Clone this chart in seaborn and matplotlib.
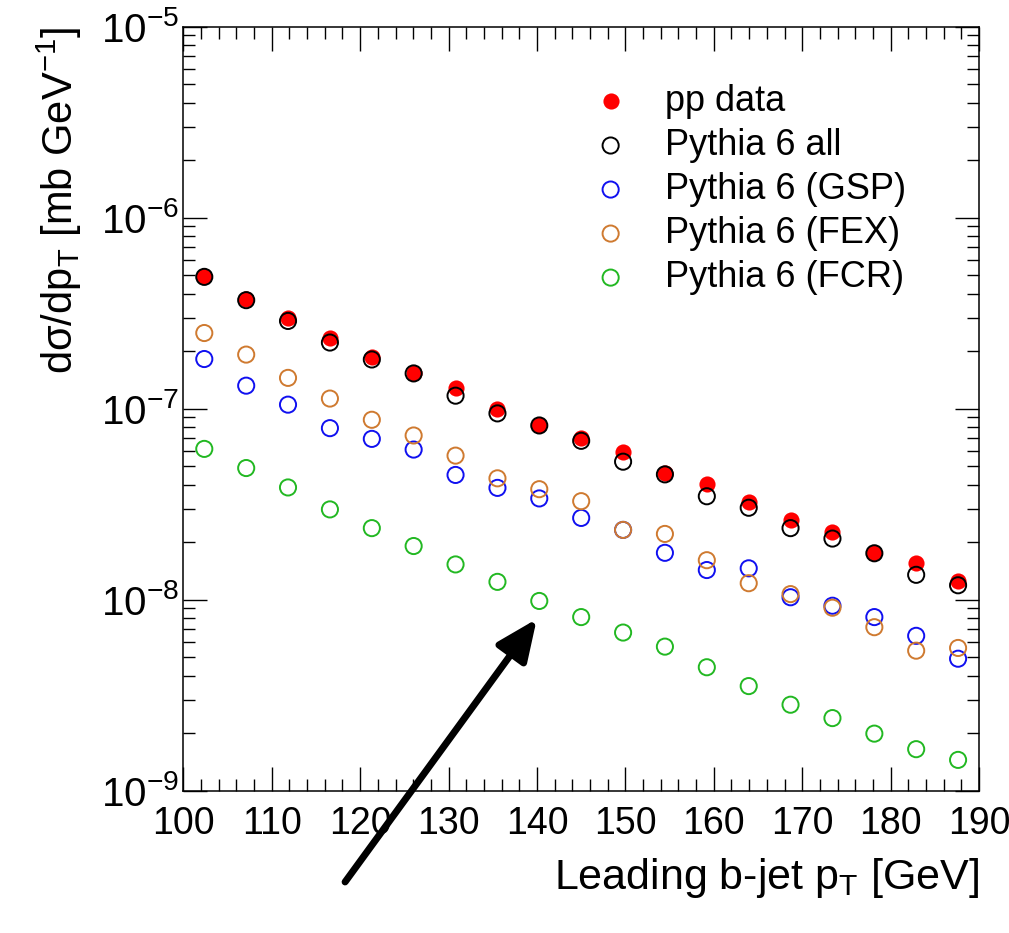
import numpy as np
import pandas as pd
import matplotlib
matplotlib.use('Agg')
import matplotlib.pyplot as plt
from matplotlib.ticker import LogLocator, MultipleLocator, NullFormatter
from matplotlib.patches import FancyArrowPatch
import seaborn as sns

# bin centres of the leading b-jet pT histogram [GeV]
pt_centres = [102.37, 107.11, 111.84, 116.58, 121.32, 126.05, 130.79, 135.53, 140.26, 145.00,
              149.74, 154.47, 159.21, 163.95, 168.68, 173.42, 178.16, 182.89, 187.63]

# d sigma / d pT [mb/GeV]
pp_data = [4.95e-7, 3.75e-7, 2.97e-7, 2.34e-7, 1.86e-7, 1.53e-7, 1.29e-7, 9.96e-8, 8.17e-8, 7.06e-8,
           5.96e-8, 4.62e-8, 4.04e-8, 3.25e-8, 2.60e-8, 2.26e-8, 1.75e-8, 1.55e-8, 1.26e-8]
pythia_all = [4.90e-7, 3.70e-7, 2.88e-7, 2.22e-7, 1.81e-7, 1.53e-7, 1.17e-7, 9.45e-8, 8.17e-8, 6.79e-8,
              5.28e-8, 4.53e-8, 3.48e-8, 3.03e-8, 2.37e-8, 2.09e-8, 1.75e-8, 1.35e-8, 1.19e-8]
pythia_gsp = [1.82e-7, 1.32e-7, 1.05e-7, 7.91e-8, 6.95e-8, 6.11e-8, 4.50e-8, 3.85e-8, 3.39e-8, 2.68e-8,
              2.32e-8, 1.76e-8, 1.43e-8, 1.46e-8, 1.03e-8, 9.30e-9, 8.11e-9, 6.47e-9, 4.91e-9]
pythia_fex = [2.49e-7, 1.92e-7, 1.45e-7, 1.13e-7, 8.75e-8, 7.24e-8, 5.68e-8, 4.32e-8, 3.79e-8, 3.28e-8,
              2.32e-8, 2.21e-8, 1.61e-8, 1.22e-8, 1.07e-8, 9.08e-9, 7.18e-9, 5.41e-9, 5.59e-9]
pythia_fcr = [6.16e-8, 4.89e-8, 3.87e-8, 2.97e-8, 2.37e-8, 1.91e-8, 1.53e-8, 1.24e-8, 9.85e-9, 8.11e-9,
              6.73e-9, 5.68e-9, 4.43e-9, 3.53e-9, 2.82e-9, 2.40e-9, 1.99e-9, 1.65e-9, 1.45e-9]

labels = ['pp data', 'Pythia 6 all', 'Pythia 6 (GSP)', 'Pythia 6 (FEX)', 'Pythia 6 (FCR)']

sns.set_style('ticks')
plt.rcParams['font.family'] = ['Liberation Sans', 'DejaVu Sans']
plt.rcParams['mathtext.fontset'] = 'custom'
plt.rcParams['mathtext.rm'] = 'Liberation Sans'
plt.rcParams['mathtext.it'] = 'Liberation Sans'
plt.rcParams['mathtext.sf'] = 'Liberation Sans'
for key in ['text.color', 'axes.labelcolor', 'xtick.color', 'ytick.color', 'axes.edgecolor']:
    plt.rcParams[key] = 'black'

frame = pd.DataFrame({'pt': pt_centres, 'data': pp_data, 'all': pythia_all,
                      'gsp': pythia_gsp, 'fex': pythia_fex, 'fcr': pythia_fcr})

fig = plt.figure(figsize=(10.09, 9.33), dpi=100)
ax = fig.add_axes([0.1817, 0.1525, 0.7886, 0.8189])

ms = 135
sns.scatterplot(x='pt', y='data', data=frame, ax=ax, color='#ff0000', s=ms,
                linewidth=0, label=labels[0], zorder=3)
series = [('all', '#000000', labels[1]), ('gsp', '#1010f0', labels[2]),
          ('fex', '#cf7a30', labels[3]), ('fcr', '#22b822', labels[4])]
order = {'all': 4, 'gsp': 5, 'fex': 6, 'fcr': 7}
for col, c, lab in series:
    sns.scatterplot(x='pt', y=col, data=frame, ax=ax, color=c, s=ms,
                    facecolor='none', edgecolor=c, linewidth=1.4, label=lab, zorder=order[col])

ax.set_yscale('log')
ax.set_xlim(100, 190)
ax.set_ylim(1e-9, 1e-5)
ax.xaxis.set_major_locator(MultipleLocator(10))
ax.xaxis.set_minor_locator(MultipleLocator(2))
ax.yaxis.set_major_locator(LogLocator(base=10, numticks=10))
ax.yaxis.set_minor_locator(LogLocator(base=10, subs=np.arange(2, 10), numticks=20))
ax.yaxis.set_minor_formatter(NullFormatter())

ax.tick_params(which='both', direction='in', top=True, right=True, width=1.0, color='black')
ax.tick_params(which='major', length=17)
ax.tick_params(which='minor', length=8.5)
ax.tick_params(axis='x', which='major', labelsize=27, pad=11)
ax.tick_params(axis='y', which='major', labelsize=29, pad=3)
for sp in ax.spines.values():
    sp.set_linewidth(1.1)
    sp.set_color('black')

ax.set_xlabel(r'Leading b-jet p$_{\mathregular{T}}$ [GeV]', fontsize=31, loc='right')
ax.xaxis.set_label_coords(1.0, -0.085)
ax.set_ylabel(r'd$\sigma$/dp$_{\mathregular{T}}$ [mb GeV$^{\mathregular{-1}}$]', fontsize=30, loc='top')
ax.yaxis.set_label_coords(-0.125, 1.0)

handles, labs = ax.get_legend_handles_labels()
ax.legend(handles=handles, labels=labs, loc='upper left', bbox_to_anchor=(0.5873, 0.910),
          bbox_transform=fig.transFigure, frameon=False, fontsize=26, handlelength=1.0,
          handletextpad=1.0, labelspacing=0.25, borderpad=0, borderaxespad=0, markerscale=1.0)

arrow = FancyArrowPatch((0.342, 0.0547), (0.532, 0.3366), transform=fig.transFigure,
                        arrowstyle='-|>,head_length=1.25,head_width=0.55', mutation_scale=20,
                        linewidth=5, color='black', shrinkA=0, shrinkB=0)
fig.add_artist(arrow)

fig.savefig('out.png', dpi=100)
